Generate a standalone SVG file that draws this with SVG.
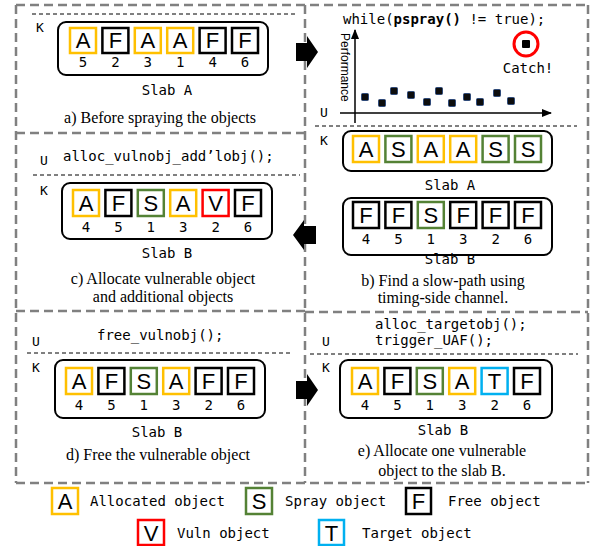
<svg xmlns="http://www.w3.org/2000/svg" width="590" height="546" viewBox="0 0 590 546">
<style>
.frame{fill:none;stroke:#808080;stroke-width:2.5;stroke-dasharray:9 5}
.uk{fill:none;stroke:#000;stroke-width:1;stroke-dasharray:4 3}
.slab{fill:none;stroke:#000;stroke-width:2}
.c{fill:#fff;stroke-width:2.5}
.ca{stroke:#FFC000}.cs{stroke:#548235}.cf{stroke:#000}.cv{stroke:#FF0000}.ct{stroke:#00B0F0}
.lt{font-family:"Liberation Sans",Arial,sans-serif;font-size:22px;text-anchor:middle;fill:#000}
.mono{font-family:"DejaVu Sans Mono","Liberation Mono",monospace;font-size:14px;fill:#000}
.mid{text-anchor:middle}
.lbl{font-family:"DejaVu Sans Mono","Liberation Mono",monospace;font-size:13px;fill:#000}
.cap{font-family:"Liberation Serif","Times New Roman",serif;font-size:16px;text-anchor:middle;fill:#000}
.dot{fill:#0d0d0d;stroke:#2e4a7a;stroke-width:1}
.arr{fill:#000}
</style>
<defs>
<marker id="ah" viewBox="0 0 10 10" refX="9" refY="5" markerWidth="7" markerHeight="7" orient="auto">
<path d="M0,1 L10,5 L0,9 Z" fill="#000"/>
</marker>
</defs>
<rect width="590" height="546" fill="#fff"/>

<g id="frames">
<path class="frame" d="M16,5 H588 M16,5 V483 M588,5 V483 M16,483 H588 M305,5 V483 M16,133 H305 M16,311 H305 M305,312 H588"/>
</g>

<g id="panel-a">
<path class="uk" d="M32,14 H295"/>
<text class="lbl" x="36" y="32">K</text>
<rect class="slab" x="58" y="22" width="210" height="53" rx="8"/>
<rect class="c ca" x="70" y="28" width="26" height="25"/>
<rect class="c cf" x="102.4" y="28" width="26" height="25"/>
<rect class="c ca" x="134.8" y="28" width="26" height="25"/>
<rect class="c ca" x="167.2" y="28" width="26" height="25"/>
<rect class="c cf" x="199.6" y="28" width="26" height="25"/>
<rect class="c cf" x="232" y="28" width="26" height="25"/>
<text class="lt" x="83" y="48">A</text>
<text class="lt" x="115.4" y="48">F</text>
<text class="lt" x="147.8" y="48">A</text>
<text class="lt" x="180.2" y="48">A</text>
<text class="lt" x="212.6" y="48">F</text>
<text class="lt" x="245" y="48">F</text>
<text class="mono mid" x="83" y="67">5</text>
<text class="mono mid" x="115.4" y="67">2</text>
<text class="mono mid" x="147.8" y="67">3</text>
<text class="mono mid" x="180.2" y="67">1</text>
<text class="mono mid" x="212.6" y="67">4</text>
<text class="mono mid" x="245" y="67">6</text>
<text class="mono mid" x="167" y="95">Slab A</text>
<text class="cap" x="160" y="123">a) Before spraying the objects</text>
</g>

<g id="panel-b">
<text class="mono" x="343" y="24">while(<tspan font-weight="bold">pspray()</tspan> != true);</text>
<line x1="355" y1="123" x2="355" y2="30" stroke="#000" stroke-width="1.5" marker-end="url(#ah)"/>
<line x1="340" y1="113" x2="551" y2="113" stroke="#000" stroke-width="1.5" marker-end="url(#ah)"/>
<text font-family="Liberation Sans,Arial,sans-serif" font-size="12" transform="translate(341,33) rotate(90)">Performance</text>
<text class="lbl" x="320" y="117">U</text>
<rect class="dot" x="361.5" y="93.5" width="7" height="7" rx="1"/>
<rect class="dot" x="378.5" y="99.5" width="7" height="7" rx="1"/>
<rect class="dot" x="390.5" y="87.5" width="7" height="7" rx="1"/>
<rect class="dot" x="407.5" y="91.5" width="7" height="7" rx="1"/>
<rect class="dot" x="423.5" y="98.5" width="7" height="7" rx="1"/>
<rect class="dot" x="435.5" y="87.5" width="7" height="7" rx="1"/>
<rect class="dot" x="448.5" y="99.5" width="7" height="7" rx="1"/>
<rect class="dot" x="463.5" y="93.5" width="7" height="7" rx="1"/>
<rect class="dot" x="476.5" y="98.5" width="7" height="7" rx="1"/>
<rect class="dot" x="493.5" y="89.5" width="7" height="7" rx="1"/>
<rect class="dot" x="507.5" y="97.5" width="7" height="7" rx="1"/>
<circle cx="526" cy="44" r="12" fill="#fff" stroke="#FF0000" stroke-width="3"/>
<rect x="522" y="40" width="8" height="8" rx="1" fill="#000"/>
<text class="mono mid" x="528" y="73">Catch!</text>
<path class="uk" d="M315,126 H577"/>
<text class="lbl" x="320" y="145">K</text>
<rect class="slab" x="343" y="131" width="209" height="40" rx="8"/>
<rect class="c ca" x="353" y="136" width="26" height="26"/>
<rect class="c cs" x="385.4" y="136" width="26" height="26"/>
<rect class="c ca" x="417.8" y="136" width="26" height="26"/>
<rect class="c ca" x="450.2" y="136" width="26" height="26"/>
<rect class="c cs" x="482.6" y="136" width="26" height="26"/>
<rect class="c cs" x="515" y="136" width="26" height="26"/>
<text class="lt" x="366" y="157">A</text>
<text class="lt" x="398.4" y="157">S</text>
<text class="lt" x="430.8" y="157">A</text>
<text class="lt" x="463.2" y="157">A</text>
<text class="lt" x="495.6" y="157">S</text>
<text class="lt" x="528" y="157">S</text>
<text class="mono mid" x="450" y="190">Slab A</text>
<rect class="slab" x="343" y="198" width="209" height="57" rx="8"/>
<rect class="c cf" x="353" y="202" width="26" height="26"/>
<rect class="c cf" x="385.4" y="202" width="26" height="26"/>
<rect class="c cs" x="417.8" y="202" width="26" height="26"/>
<rect class="c cf" x="450.2" y="202" width="26" height="26"/>
<rect class="c cf" x="482.6" y="202" width="26" height="26"/>
<rect class="c cf" x="515" y="202" width="26" height="26"/>
<text class="lt" x="366" y="223">F</text>
<text class="lt" x="398.4" y="223">F</text>
<text class="lt" x="430.8" y="223">S</text>
<text class="lt" x="463.2" y="223">F</text>
<text class="lt" x="495.6" y="223">F</text>
<text class="lt" x="528" y="223">F</text>
<text class="mono mid" x="366" y="244">4</text>
<text class="mono mid" x="398.4" y="244">5</text>
<text class="mono mid" x="430.8" y="244">1</text>
<text class="mono mid" x="463.2" y="244">3</text>
<text class="mono mid" x="495.6" y="244">2</text>
<text class="mono mid" x="528" y="244">6</text>
<text class="mono mid" x="450" y="264">Slab B</text>
<text class="cap" x="443" y="286">b) Find a slow-path using</text>
<text class="cap" x="443" y="303">timing-side channel.</text>
</g>

<g id="panel-c">
<text class="lbl" x="40" y="165">U</text>
<text class="mono" x="63" y="161">alloc_vulnobj_add’lobj();</text>
<path class="uk" d="M33,175 H300"/>
<text class="lbl" x="40" y="195">K</text>
<rect class="slab" x="62" y="183" width="210" height="56" rx="8"/>
<rect class="c ca" x="73" y="190" width="26" height="26"/>
<rect class="c cf" x="105.4" y="190" width="26" height="26"/>
<rect class="c cs" x="137.8" y="190" width="26" height="26"/>
<rect class="c ca" x="170.2" y="190" width="26" height="26"/>
<rect class="c cv" x="202.6" y="190" width="26" height="26"/>
<rect class="c cf" x="235" y="190" width="26" height="26"/>
<text class="lt" x="86" y="211">A</text>
<text class="lt" x="118.4" y="211">F</text>
<text class="lt" x="150.8" y="211">S</text>
<text class="lt" x="183.2" y="211">A</text>
<text class="lt" x="215.6" y="211">V</text>
<text class="lt" x="248" y="211">F</text>
<text class="mono mid" x="86" y="232">4</text>
<text class="mono mid" x="118.4" y="232">5</text>
<text class="mono mid" x="150.8" y="232">1</text>
<text class="mono mid" x="183.2" y="232">3</text>
<text class="mono mid" x="215.6" y="232">2</text>
<text class="mono mid" x="248" y="232">6</text>
<text class="mono mid" x="167" y="258">Slab B</text>
<text class="cap" x="163" y="284">c) Allocate vulnerable object</text>
<text class="cap" x="163" y="302">and additional objects</text>
</g>

<g id="panel-d">
<text class="lbl" x="32" y="346">U</text>
<text class="mono" x="97" y="340">free_vulnobj();</text>
<path class="uk" d="M27,353 H290"/>
<text class="lbl" x="32" y="372">K</text>
<rect class="slab" x="55" y="360" width="210" height="58" rx="8"/>
<rect class="c ca" x="66" y="368" width="26" height="26"/>
<rect class="c cf" x="98.4" y="368" width="26" height="26"/>
<rect class="c cs" x="130.8" y="368" width="26" height="26"/>
<rect class="c ca" x="163.2" y="368" width="26" height="26"/>
<rect class="c cf" x="195.6" y="368" width="26" height="26"/>
<rect class="c cf" x="228" y="368" width="26" height="26"/>
<text class="lt" x="79" y="389">A</text>
<text class="lt" x="111.4" y="389">F</text>
<text class="lt" x="143.8" y="389">S</text>
<text class="lt" x="176.2" y="389">A</text>
<text class="lt" x="208.6" y="389">F</text>
<text class="lt" x="241" y="389">F</text>
<text class="mono mid" x="79" y="410">4</text>
<text class="mono mid" x="111.4" y="410">5</text>
<text class="mono mid" x="143.8" y="410">1</text>
<text class="mono mid" x="176.2" y="410">3</text>
<text class="mono mid" x="208.6" y="410">2</text>
<text class="mono mid" x="241" y="410">6</text>
<text class="mono mid" x="157" y="437">Slab B</text>
<text class="cap" x="158" y="460">d) Free the vulnerable object</text>
</g>

<g id="panel-e">
<text class="mono" x="375" y="329">alloc_targetobj();</text>
<text class="mono" x="375" y="345">trigger_UAF();</text>
<text class="lbl" x="322" y="346">U</text>
<path class="uk" d="M310,354 H578"/>
<text class="lbl" x="322" y="372">K</text>
<rect class="slab" x="340" y="360" width="212" height="58" rx="8"/>
<rect class="c ca" x="352" y="368" width="26" height="26"/>
<rect class="c cf" x="384.4" y="368" width="26" height="26"/>
<rect class="c cs" x="416.8" y="368" width="26" height="26"/>
<rect class="c ca" x="449.2" y="368" width="26" height="26"/>
<rect class="c ct" x="481.6" y="368" width="26" height="26"/>
<rect class="c cf" x="514" y="368" width="26" height="26"/>
<text class="lt" x="365" y="389">A</text>
<text class="lt" x="397.4" y="389">F</text>
<text class="lt" x="429.8" y="389">S</text>
<text class="lt" x="462.2" y="389">A</text>
<text class="lt" x="494.6" y="389">T</text>
<text class="lt" x="527" y="389">F</text>
<text class="mono mid" x="365" y="410">4</text>
<text class="mono mid" x="397.4" y="410">5</text>
<text class="mono mid" x="429.8" y="410">1</text>
<text class="mono mid" x="462.2" y="410">3</text>
<text class="mono mid" x="494.6" y="410">2</text>
<text class="mono mid" x="527" y="410">6</text>
<text class="mono mid" x="443" y="435">Slab B</text>
<text class="cap" x="442" y="456">e) Allocate one vulnerable</text>
<text class="cap" x="442" y="476">object to the slab B.</text>
</g>

<g id="connectors">
<polygon class="arr" points="296,43 307,43 307,36 318,52 307,68 307,61 296,61"/>
<polygon class="arr" points="316,226 304,226 304,220 293,235 304,250 304,244 316,244"/>
<polygon class="arr" points="296,381 307,381 307,374 318,390 307,406 307,399 296,399"/>
</g>

<g id="legend">
<rect class="c ca" x="52" y="488" width="26" height="26"/>
<text class="lt" x="65" y="509">A</text>
<text class="mono" x="90" y="506">Allocated object</text>
<rect class="c cs" x="246" y="488" width="26" height="26"/>
<text class="lt" x="259" y="509">S</text>
<text class="mono" x="285" y="506">Spray object</text>
<rect class="c cf" x="406" y="488" width="25" height="26" stroke-width="3"/>
<text class="lt" x="418.5" y="509">F</text>
<text class="mono" x="448" y="506">Free object</text>
<rect class="c cv" x="138" y="520" width="26" height="25"/>
<text class="lt" x="151" y="541">V</text>
<text class="mono" x="177" y="538">Vuln object</text>
<rect class="c ct" x="319" y="520" width="25" height="25"/>
<text class="lt" x="331.5" y="541">T</text>
<text class="mono" x="362" y="538">Target object</text>
</g>
</svg>
